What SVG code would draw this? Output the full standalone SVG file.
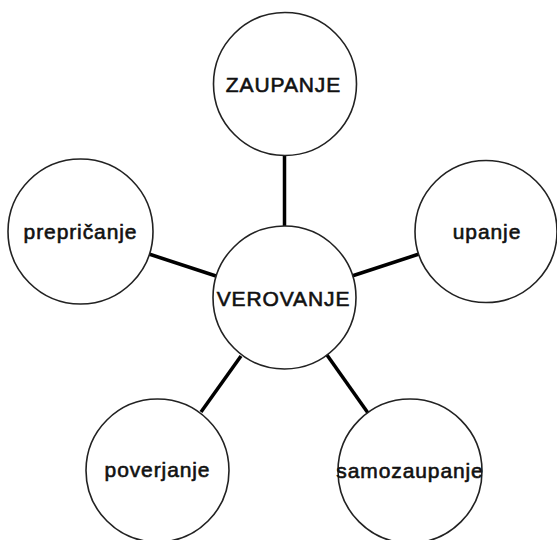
<svg xmlns="http://www.w3.org/2000/svg" width="557" height="540" viewBox="0 0 557 540">
<style>
.node circle{fill:#fff;stroke:#222;stroke-width:1.6}
.node text{font-family:"Liberation Sans",Arial,sans-serif;font-size:21px;fill:#111;stroke:#111;stroke-width:0.6;letter-spacing:0.9px;text-anchor:middle}
.conn line{stroke:#000;stroke-width:3.5}
</style>
<rect width="557" height="540" fill="#fff"/>
<g id="connectors" class="conn">
<line x1="284.5" y1="156" x2="284.5" y2="226"/>
<line x1="149" y1="254" x2="216" y2="276"/>
<line x1="352" y1="276" x2="419" y2="254"/>
<line x1="241" y1="356" x2="201" y2="412"/>
<line x1="327" y1="355" x2="368" y2="413"/>
</g>
<g id="zaupanje" class="node"><circle cx="285" cy="84" r="71.5"/><text x="283.5" y="92">ZAUPANJE</text></g>
<g id="preprica" class="node"><circle cx="80.5" cy="231.5" r="72.5"/><text x="80.5" y="239">prepričanje</text></g>
<g id="upanje" class="node"><circle cx="486" cy="231.5" r="71"/><text x="487" y="239">upanje</text></g>
<g id="verovanje" class="node"><circle cx="284.5" cy="297.5" r="71.5"/><text x="283.5" y="306">VEROVANJE</text></g>
<g id="poverjanje" class="node"><circle cx="157.5" cy="470.5" r="71.5"/><text x="157.5" y="477">poverjanje</text></g>
<g id="samozaupanje" class="node"><circle cx="410" cy="471" r="72"/><text x="410" y="478">samozaupanje</text></g>
</svg>
